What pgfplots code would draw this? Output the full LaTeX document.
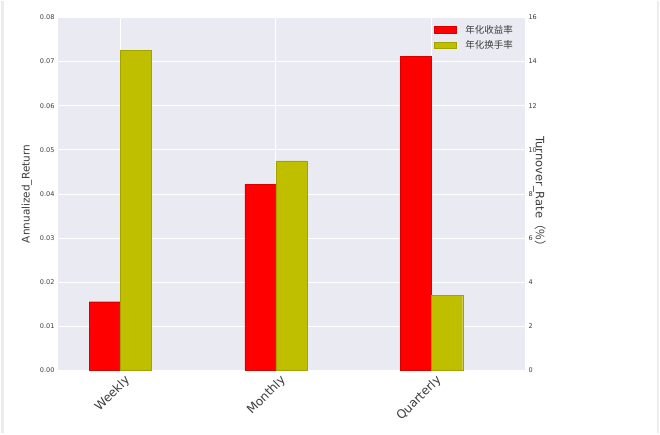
\documentclass[border=0pt]{standalone}
\usepackage{pgfplots}
\pgfplotsset{compat=1.18}
\usepackage{fontspec}
\setmainfont{DejaVu Sans}
\newfontfamily\cjk{Noto Sans CJK SC}
\definecolor{bg}{RGB}{234,234,242}
\definecolor{tk}{RGB}{60,60,60}
\definecolor{myred}{RGB}{255,0,0}
\definecolor{myyel}{RGB}{191,191,0}
\begin{document}
\begin{tikzpicture}[x=1pt,y=1pt]
\path[fill=white] (0,0) rectangle (660,432);
\draw[color={rgb,255:red,236;green,236;blue,236}, line width=3pt] (2.5,0) -- (2.5,432);
\draw[color={rgb,255:red,236;green,236;blue,236}, line width=1.5pt] (658,0) -- (658,432);
\begin{axis}[
  at={(58pt,63pt)}, anchor=south west,
  width=467pt, height=353pt, scale only axis,
  xmin=-0.4, xmax=2.6, ymin=0, ymax=0.08,
  axis background/.style={fill=bg},
  axis line style={draw=none},
  xtick={0,1,2}, xticklabels={Weekly,Monthly,Quarterly},
  x tick label style={rotate=45, anchor=north east, font=\fontsize{12}{14}\selectfont, color=tk, inner sep=2pt, xshift=2pt, yshift=-3pt},
  ytick={0,0.01,...,0.08},
  yticklabel style={/pgf/number format/fixed, /pgf/number format/fixed zerofill, /pgf/number format/precision=2, font=\fontsize{6.5}{8}\selectfont, color=tk},
  /pgf/number format/assume math mode=true,
  scaled y ticks=false,
  major tick length=0pt,
  grid=major, major grid style={white, line width=0.9pt},
  ylabel={Annualized\_Return}, ylabel style={font=\fontsize{10.5}{12}\selectfont, color=tk, at={(axis description cs:-0.048,0.5)}},
  xlabel={},
  clip=false,
]
\addplot[ybar, bar width=0.2, bar shift=-0.1, fill=myred, draw=myred!85!black, line width=0.3pt] coordinates {(0,0.0156) (1,0.0422) (2,0.0712)};
\end{axis}
\begin{axis}[
  at={(58pt,63pt)}, anchor=south west,
  width=467pt, height=353pt, scale only axis,
  xmin=-0.4, xmax=2.6, ymin=0, ymax=16,
  axis x line=none,
  axis y line*=right,
  axis line style={draw=none},
  ytick={0,2,...,16},
  yticklabel style={font=\fontsize{6.5}{8}\selectfont, color=tk},
  /pgf/number format/assume math mode=true,
  major tick length=0pt,
  ylabel={Turnover\_Rate{\cjk（\%）}}, ylabel style={font=\fontsize{11.5}{13}\selectfont, color=tk, rotate=180, at={(axis description cs:1.01,0.5)}},
  legend style={draw=none, fill=none, at={(0.985,0.99)}, anchor=north east, font=\cjk\fontsize{9.5}{12}\selectfont, text=tk, row sep=2pt},
  legend cell align=left,
  legend image code/.code={\draw[#1] (0pt,-3pt) rectangle (22pt,3.5pt); \path (29pt,0pt);},
]
\addlegendimage{fill=myred, draw=myred!85!black}
\addlegendentry{年化收益率}
\addplot[ybar, bar width=0.2, bar shift=0.1, fill=myyel, draw=myyel!85!black, line width=0.3pt] coordinates {(0,14.5) (1,9.5) (2,3.4)};
\addlegendentry{年化换手率}
\end{axis}
\end{tikzpicture}
\end{document}
